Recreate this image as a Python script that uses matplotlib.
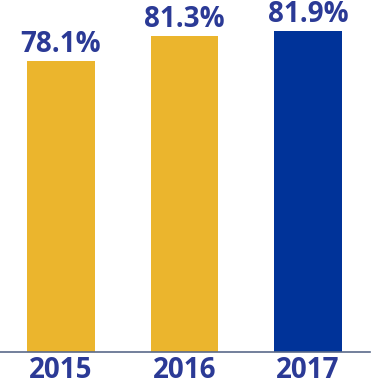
import matplotlib
matplotlib.use("Agg")
import matplotlib.pyplot as plt

years = ["2015", "2016", "2017"]
rates = [78.1, 81.3, 81.9]
bar_colors = ["#EBB52D", "#EBB52D", "#003399"]
labels = ["78.1%", "81.3%", "81.9%"]

text_color = "#2B3A96"

plt.rcParams["font.family"] = ["Open Sans", "DejaVu Sans"]

fig = plt.figure(figsize=(3.72, 3.80), dpi=100)
ax = fig.add_axes([0, 28 / 380, 370 / 372, 352 / 380])

x = range(len(years))
ax.bar(x, rates, width=0.55, color=bar_colors, zorder=2)

ax.set_xlim(-0.494, 2.502)
ax.set_ylim(40.1, 86.0)

for xi, v, lab in zip(x, rates, labels):
    ax.annotate(lab, (xi, v), xytext=(0, 6.5), textcoords="offset points",
                ha="center", va="baseline", fontsize=20, fontweight="bold",
                color=text_color)

# year labels under the baseline
for xi, yr in zip(x, years):
    ax.annotate(yr, (xi, 0), xycoords=("data", "axes fraction"),
                xytext=(0, -18.5), textcoords="offset points",
                ha="center", va="baseline", fontsize=20, fontweight="bold",
                color=text_color)

ax.set_xticks([])
ax.set_yticks([])

for s in ["top", "left", "right"]:
    ax.spines[s].set_visible(False)
ax.spines["bottom"].set_color("#5A6A8A")
ax.spines["bottom"].set_linewidth(1.2)

fig.savefig("out.png", dpi=100)
